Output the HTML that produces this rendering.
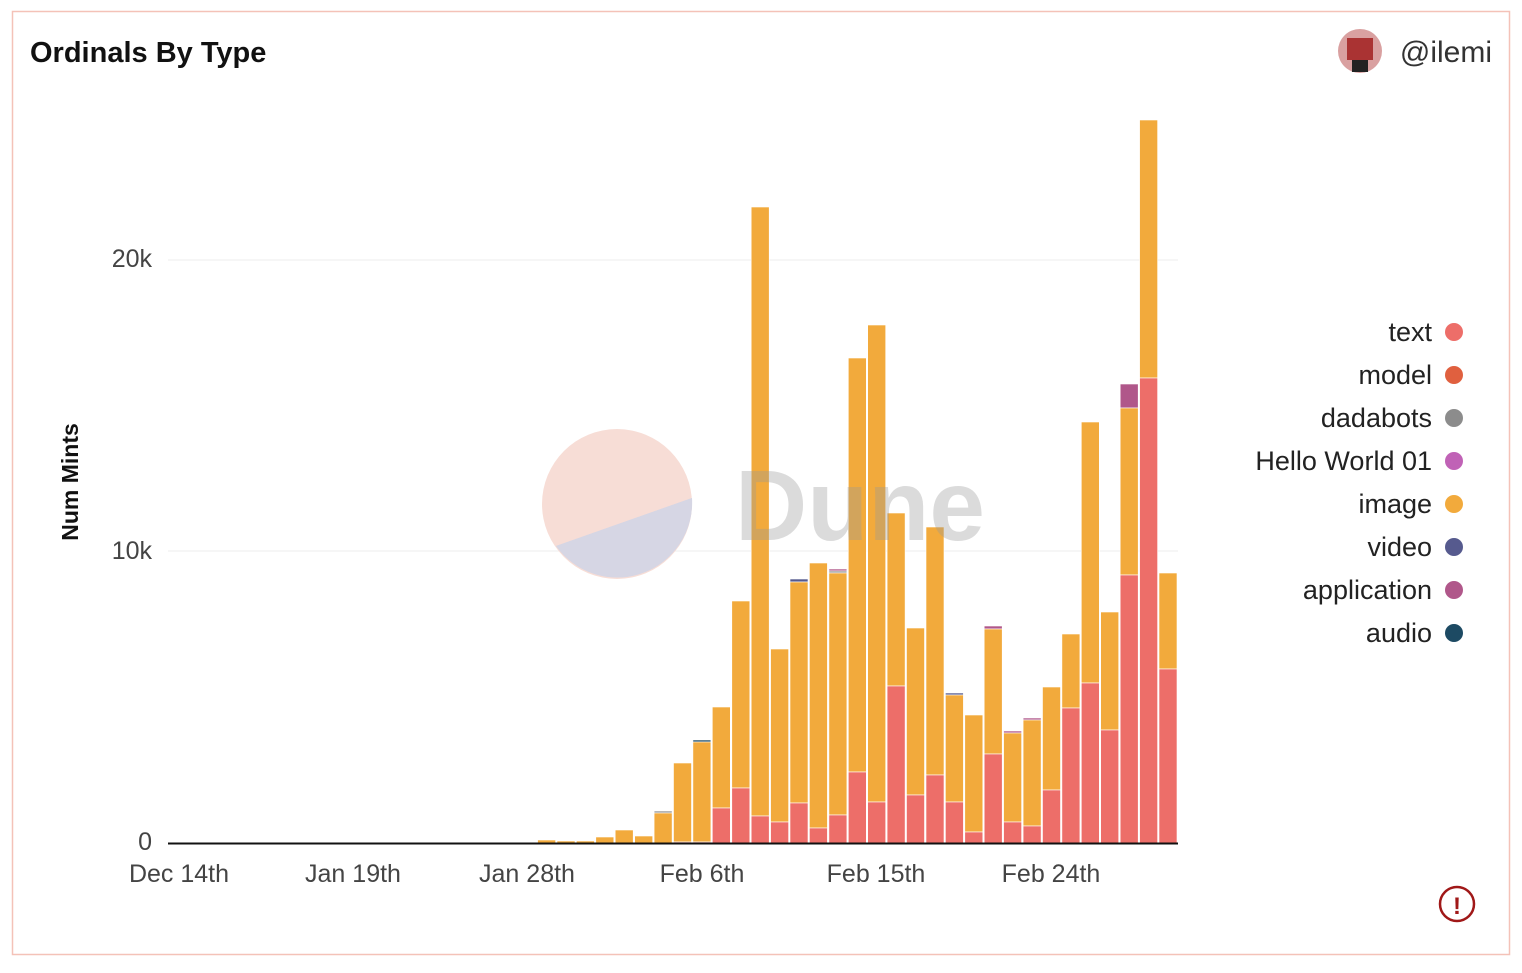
<!DOCTYPE html>
<html><head><meta charset="utf-8"><style>
body{margin:0;background:#fff;width:1522px;height:968px;overflow:hidden;font-family:"Liberation Sans",sans-serif}
</style></head><body>
<svg width="1522" height="968" xmlns="http://www.w3.org/2000/svg" font-family="Liberation Sans, sans-serif">
<rect x="12.5" y="11.5" width="1497" height="943" fill="#fff" stroke="#f4c2b8" stroke-width="1.5"/>
<text x="30" y="62" font-size="29" font-weight="bold" fill="#111">Ordinals By Type</text>
<circle cx="1360" cy="51" r="22" fill="#d9a0a0"/>
<rect x="1347" y="38" width="26" height="22" fill="#a33"/>
<rect x="1352" y="60" width="16" height="12" fill="#222"/>
<text x="1492" y="62" font-size="30" fill="#333" text-anchor="end">@ilemi</text>
<line x1="168" y1="260" x2="1178" y2="260" stroke="#eee"/>
<line x1="168" y1="551" x2="1178" y2="551" stroke="#eee"/>
<text x="152" y="267" font-size="25" fill="#444" text-anchor="end">20k</text>
<text x="152" y="559" font-size="25" fill="#444" text-anchor="end">10k</text>
<text x="152" y="850" font-size="25" fill="#444" text-anchor="end">0</text>
<text transform="translate(78,482) rotate(-90)" font-size="23" font-weight="bold" fill="#111" text-anchor="middle">Num Mints</text>
<circle cx="617" cy="504" r="75" fill="#f7ddd6"/>
<path d="M692 498 L556 546 A75 75 0 0 0 692 504 Z" fill="#d6d6e4"/>
<path d="M692 498 A75 75 0 0 1 556 546 Z" fill="#d6d6e4"/>
<g stroke="#fff" stroke-width="0.6">
<rect x="1159" y="573" width="18" height="96" fill="#f2aa3c"/><rect x="1159" y="669" width="18" height="174" fill="#ed6e69"/>
<rect x="1139.6" y="120" width="18" height="258" fill="#f2aa3c"/><rect x="1139.6" y="378" width="18" height="465" fill="#ed6e69"/>
<rect x="1120.2" y="384" width="18" height="24" fill="#b0578a"/><rect x="1120.2" y="408" width="18" height="167" fill="#f2aa3c"/><rect x="1120.2" y="575" width="18" height="268" fill="#ed6e69"/>
<rect x="1100.7" y="612" width="18" height="118" fill="#f2aa3c"/><rect x="1100.7" y="730" width="18" height="113" fill="#ed6e69"/>
<rect x="1081.3" y="422" width="18" height="261" fill="#f2aa3c"/><rect x="1081.3" y="683" width="18" height="160" fill="#ed6e69"/>
<rect x="1061.9" y="634" width="18" height="74" fill="#f2aa3c"/><rect x="1061.9" y="708" width="18" height="135" fill="#ed6e69"/>
<rect x="1042.5" y="687" width="18" height="103" fill="#f2aa3c"/><rect x="1042.5" y="790" width="18" height="53" fill="#ed6e69"/>
<rect x="1023.1" y="718" width="18" height="2" fill="#b0578a"/><rect x="1023.1" y="720" width="18" height="106" fill="#f2aa3c"/><rect x="1023.1" y="826" width="18" height="17" fill="#ed6e69"/>
<rect x="1003.6" y="731" width="18" height="2" fill="#b0578a"/><rect x="1003.6" y="733" width="18" height="89" fill="#f2aa3c"/><rect x="1003.6" y="822" width="18" height="21" fill="#ed6e69"/>
<rect x="984.2" y="626" width="18" height="3" fill="#b0578a"/><rect x="984.2" y="629" width="18" height="125" fill="#f2aa3c"/><rect x="984.2" y="754" width="18" height="89" fill="#ed6e69"/>
<rect x="964.8" y="715" width="18" height="117" fill="#f2aa3c"/><rect x="964.8" y="832" width="18" height="11" fill="#ed6e69"/>
<rect x="945.4" y="693" width="18" height="2" fill="#565a8e"/><rect x="945.4" y="695" width="18" height="107" fill="#f2aa3c"/><rect x="945.4" y="802" width="18" height="41" fill="#ed6e69"/>
<rect x="926" y="527" width="18" height="248" fill="#f2aa3c"/><rect x="926" y="775" width="18" height="68" fill="#ed6e69"/>
<rect x="906.5" y="628" width="18" height="167" fill="#f2aa3c"/><rect x="906.5" y="795" width="18" height="48" fill="#ed6e69"/>
<rect x="887.1" y="513" width="18" height="173" fill="#f2aa3c"/><rect x="887.1" y="686" width="18" height="157" fill="#ed6e69"/>
<rect x="867.7" y="325" width="18" height="477" fill="#f2aa3c"/><rect x="867.7" y="802" width="18" height="41" fill="#ed6e69"/>
<rect x="848.3" y="358" width="18" height="414" fill="#f2aa3c"/><rect x="848.3" y="772" width="18" height="71" fill="#ed6e69"/>
<rect x="828.9" y="569" width="18" height="2" fill="#b0578a"/><rect x="828.9" y="571" width="18" height="2" fill="#969696"/><rect x="828.9" y="573" width="18" height="242" fill="#f2aa3c"/><rect x="828.9" y="815" width="18" height="28" fill="#ed6e69"/>
<rect x="809.4" y="563" width="18" height="265" fill="#f2aa3c"/><rect x="809.4" y="828" width="18" height="15" fill="#ed6e69"/>
<rect x="790" y="579" width="18" height="3" fill="#565a8e"/><rect x="790" y="582" width="18" height="221" fill="#f2aa3c"/><rect x="790" y="803" width="18" height="40" fill="#ed6e69"/>
<rect x="770.6" y="649" width="18" height="173" fill="#f2aa3c"/><rect x="770.6" y="822" width="18" height="21" fill="#ed6e69"/>
<rect x="751.2" y="207" width="18" height="609" fill="#f2aa3c"/><rect x="751.2" y="816" width="18" height="27" fill="#ed6e69"/>
<rect x="731.8" y="601" width="18" height="187" fill="#f2aa3c"/><rect x="731.8" y="788" width="18" height="55" fill="#ed6e69"/>
<rect x="712.3" y="707" width="18" height="101" fill="#f2aa3c"/><rect x="712.3" y="808" width="18" height="35" fill="#ed6e69"/>
<rect x="692.9" y="740" width="18" height="2" fill="#1d4a63"/><rect x="692.9" y="742" width="18" height="100" fill="#f2aa3c"/><rect x="692.9" y="842" width="18" height="1" fill="#ed6e69"/>
<rect x="673.5" y="763" width="18" height="79" fill="#f2aa3c"/><rect x="673.5" y="842" width="18" height="1" fill="#ed6e69"/>
<rect x="654.1" y="811" width="18" height="2" fill="#969696"/><rect x="654.1" y="813" width="18" height="30" fill="#f2aa3c"/>
<rect x="634.7" y="836" width="18" height="7" fill="#f2aa3c"/>
<rect x="615.2" y="830" width="18" height="13" fill="#f2aa3c"/>
<rect x="595.8" y="837" width="18" height="6" fill="#f2aa3c"/>
<rect x="576.4" y="841" width="18" height="2" fill="#f2aa3c"/>
<rect x="557" y="841" width="18" height="2" fill="#f2aa3c"/>
<rect x="537.6" y="840" width="18" height="3" fill="#f2aa3c"/>
</g>
<text x="735" y="540" font-size="100" font-weight="bold" fill="#999" opacity="0.35">Dune</text>
<line x1="168" y1="843.5" x2="1178" y2="843.5" stroke="#111" stroke-width="2"/>
<g font-size="25" fill="#444" text-anchor="middle">
<text x="179" y="882">Dec 14th</text><text x="353" y="882">Jan 19th</text><text x="527" y="882">Jan 28th</text>
<text x="702" y="882">Feb 6th</text><text x="876" y="882">Feb 15th</text><text x="1051" y="882">Feb 24th</text>
</g>
<g font-size="27" fill="#222" text-anchor="end">
<text x="1432" y="341">text</text><circle cx="1454" cy="332" r="9" fill="#ed6e69"/>
<text x="1432" y="384">model</text><circle cx="1454" cy="375" r="9" fill="#e0603f"/>
<text x="1432" y="427">dadabots</text><circle cx="1454" cy="418" r="9" fill="#8c8c8c"/>
<text x="1432" y="470">Hello World 01</text><circle cx="1454" cy="461" r="9" fill="#c062b6"/>
<text x="1432" y="513">image</text><circle cx="1454" cy="504" r="9" fill="#f2aa3c"/>
<text x="1432" y="556">video</text><circle cx="1454" cy="547" r="9" fill="#565a8e"/>
<text x="1432" y="599">application</text><circle cx="1454" cy="590" r="9" fill="#b0578a"/>
<text x="1432" y="642">audio</text><circle cx="1454" cy="633" r="9" fill="#1d4a63"/>
</g>
<circle cx="1457" cy="904" r="17" fill="none" stroke="#a01818" stroke-width="2.5"/>
<text x="1457" y="914" font-size="24" font-weight="bold" fill="#a01818" text-anchor="middle">!</text>
</svg>
</body></html>
